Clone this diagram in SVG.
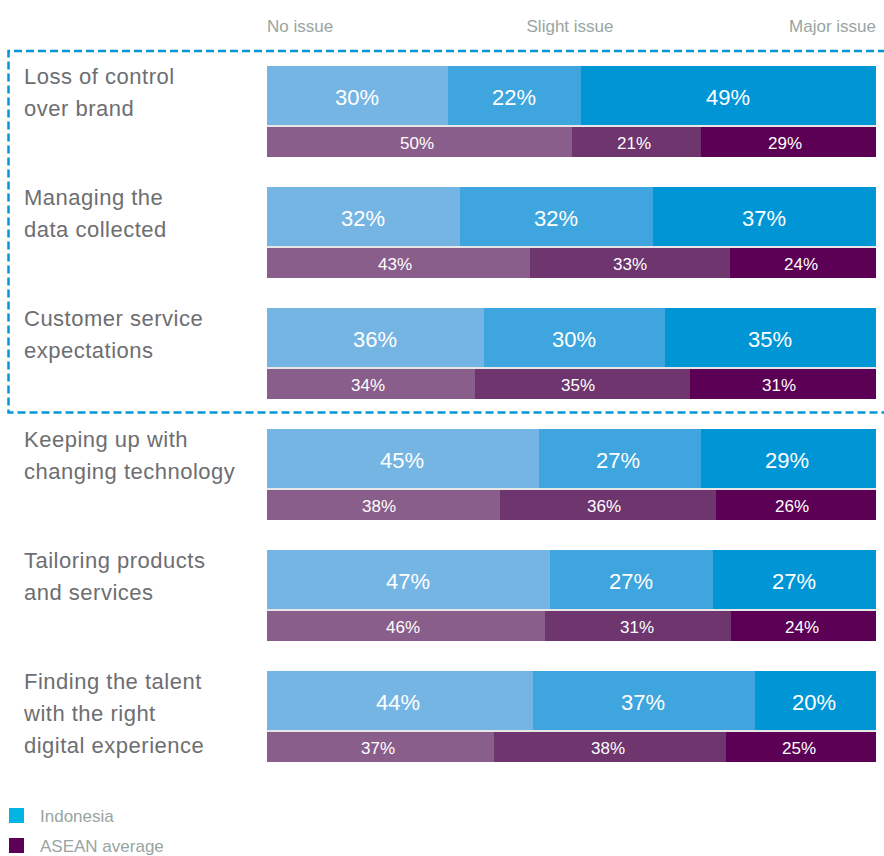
<svg xmlns="http://www.w3.org/2000/svg" width="884" height="856" viewBox="0 0 884 856">
<style>
.hdr{font-family:"Liberation Sans",Arial,sans-serif;font-size:17px;fill:#98a5a2}
.lbl{font-family:"Liberation Sans",Arial,sans-serif;font-size:22px;fill:#6d6e71;letter-spacing:0.5px}
.big{font-family:"Liberation Sans",Arial,sans-serif;font-size:22px;fill:#ffffff;text-anchor:middle}
.sm{font-family:"Liberation Sans",Arial,sans-serif;font-size:17px;fill:#ffffff;text-anchor:middle}
.c1{fill:#75b5e3}.c2{fill:#3ea5de}.c3{fill:#0096d6}
.p1{fill:#8a5e8a}.p2{fill:#6e356f}.p3{fill:#5c0055}
.sep{fill:#e6e6e6}
</style>
<rect width="884" height="856" fill="#ffffff"/>
<g id="header">
<text class="hdr" x="267" y="32">No issue</text>
<text class="hdr" x="570" y="32" text-anchor="middle">Slight issue</text>
<text class="hdr" x="876" y="32" text-anchor="end">Major issue</text>
</g>
<g id="highlight">
<path d="M886 51 H8.5 V412.5 H886" fill="none" stroke="#0096d6" stroke-width="2.5" stroke-dasharray="8 4"/>
</g>
<g id="row1">
<text class="lbl" x="24" y="84">Loss of control</text>
<text class="lbl" x="24" y="116">over brand</text>
<rect class="c1" x="267" y="66" width="181" height="59"/>
<rect class="c2" x="448" y="66" width="133" height="59"/>
<rect class="c3" x="581" y="66" width="295" height="59"/>
<rect class="sep" x="267" y="125" width="609" height="2"/>
<rect class="p1" x="267" y="127" width="305" height="30"/>
<rect class="p2" x="572" y="127" width="129" height="30"/>
<rect class="p3" x="701" y="127" width="175" height="30"/>
<text class="big" x="357" y="105">30%</text>
<text class="big" x="514" y="105">22%</text>
<text class="big" x="728" y="105">49%</text>
<text class="sm" x="417" y="149">50%</text>
<text class="sm" x="634" y="149">21%</text>
<text class="sm" x="785" y="149">29%</text>
</g>
<g id="row2">
<text class="lbl" x="24" y="205">Managing the</text>
<text class="lbl" x="24" y="237">data collected</text>
<rect class="c1" x="267" y="187" width="193" height="59"/>
<rect class="c2" x="460" y="187" width="193" height="59"/>
<rect class="c3" x="653" y="187" width="223" height="59"/>
<rect class="sep" x="267" y="246" width="609" height="2"/>
<rect class="p1" x="267" y="248" width="263" height="30"/>
<rect class="p2" x="530" y="248" width="200" height="30"/>
<rect class="p3" x="730" y="248" width="146" height="30"/>
<text class="big" x="363" y="226">32%</text>
<text class="big" x="556" y="226">32%</text>
<text class="big" x="764" y="226">37%</text>
<text class="sm" x="395" y="270">43%</text>
<text class="sm" x="630" y="270">33%</text>
<text class="sm" x="801" y="270">24%</text>
</g>
<g id="row3">
<text class="lbl" x="24" y="326">Customer service</text>
<text class="lbl" x="24" y="358">expectations</text>
<rect class="c1" x="267" y="308" width="217" height="59"/>
<rect class="c2" x="484" y="308" width="181" height="59"/>
<rect class="c3" x="665" y="308" width="211" height="59"/>
<rect class="sep" x="267" y="367" width="609" height="2"/>
<rect class="p1" x="267" y="369" width="208" height="30"/>
<rect class="p2" x="475" y="369" width="215" height="30"/>
<rect class="p3" x="690" y="369" width="186" height="30"/>
<text class="big" x="375" y="347">36%</text>
<text class="big" x="574" y="347">30%</text>
<text class="big" x="770" y="347">35%</text>
<text class="sm" x="368" y="391">34%</text>
<text class="sm" x="578" y="391">35%</text>
<text class="sm" x="779" y="391">31%</text>
</g>
<g id="row4">
<text class="lbl" x="24" y="447">Keeping up with</text>
<text class="lbl" x="24" y="479">changing technology</text>
<rect class="c1" x="267" y="429" width="272" height="59"/>
<rect class="c2" x="539" y="429" width="162" height="59"/>
<rect class="c3" x="701" y="429" width="175" height="59"/>
<rect class="sep" x="267" y="488" width="609" height="2"/>
<rect class="p1" x="267" y="490" width="233" height="30"/>
<rect class="p2" x="500" y="490" width="216" height="30"/>
<rect class="p3" x="716" y="490" width="160" height="30"/>
<text class="big" x="402" y="468">45%</text>
<text class="big" x="618" y="468">27%</text>
<text class="big" x="787" y="468">29%</text>
<text class="sm" x="379" y="512">38%</text>
<text class="sm" x="604" y="512">36%</text>
<text class="sm" x="792" y="512">26%</text>
</g>
<g id="row5">
<text class="lbl" x="24" y="568">Tailoring products</text>
<text class="lbl" x="24" y="600">and services</text>
<rect class="c1" x="267" y="550" width="283" height="59"/>
<rect class="c2" x="550" y="550" width="163" height="59"/>
<rect class="c3" x="713" y="550" width="163" height="59"/>
<rect class="sep" x="267" y="609" width="609" height="2"/>
<rect class="p1" x="267" y="611" width="278" height="30"/>
<rect class="p2" x="545" y="611" width="186" height="30"/>
<rect class="p3" x="731" y="611" width="145" height="30"/>
<text class="big" x="408" y="589">47%</text>
<text class="big" x="631" y="589">27%</text>
<text class="big" x="794" y="589">27%</text>
<text class="sm" x="403" y="633">46%</text>
<text class="sm" x="637" y="633">31%</text>
<text class="sm" x="802" y="633">24%</text>
</g>
<g id="row6">
<text class="lbl" x="24" y="689">Finding the talent</text>
<text class="lbl" x="24" y="721">with the right</text>
<text class="lbl" x="24" y="753">digital experience</text>
<rect class="c1" x="267" y="671" width="266" height="59"/>
<rect class="c2" x="533" y="671" width="222" height="59"/>
<rect class="c3" x="755" y="671" width="121" height="59"/>
<rect class="sep" x="267" y="730" width="609" height="2"/>
<rect class="p1" x="267" y="732" width="227" height="30"/>
<rect class="p2" x="494" y="732" width="232" height="30"/>
<rect class="p3" x="726" y="732" width="150" height="30"/>
<text class="big" x="398" y="710">44%</text>
<text class="big" x="643" y="710">37%</text>
<text class="big" x="814" y="710">20%</text>
<text class="sm" x="378" y="754">37%</text>
<text class="sm" x="608" y="754">38%</text>
<text class="sm" x="799" y="754">25%</text>
</g>
<g id="legend">
<rect x="9" y="808" width="15" height="15" fill="#00b5e2"/>
<text class="hdr" x="40" y="822">Indonesia</text>
<rect x="9" y="838" width="15" height="15" fill="#5c0055"/>
<text class="hdr" x="40" y="852">ASEAN average</text>
</g>
</svg>
